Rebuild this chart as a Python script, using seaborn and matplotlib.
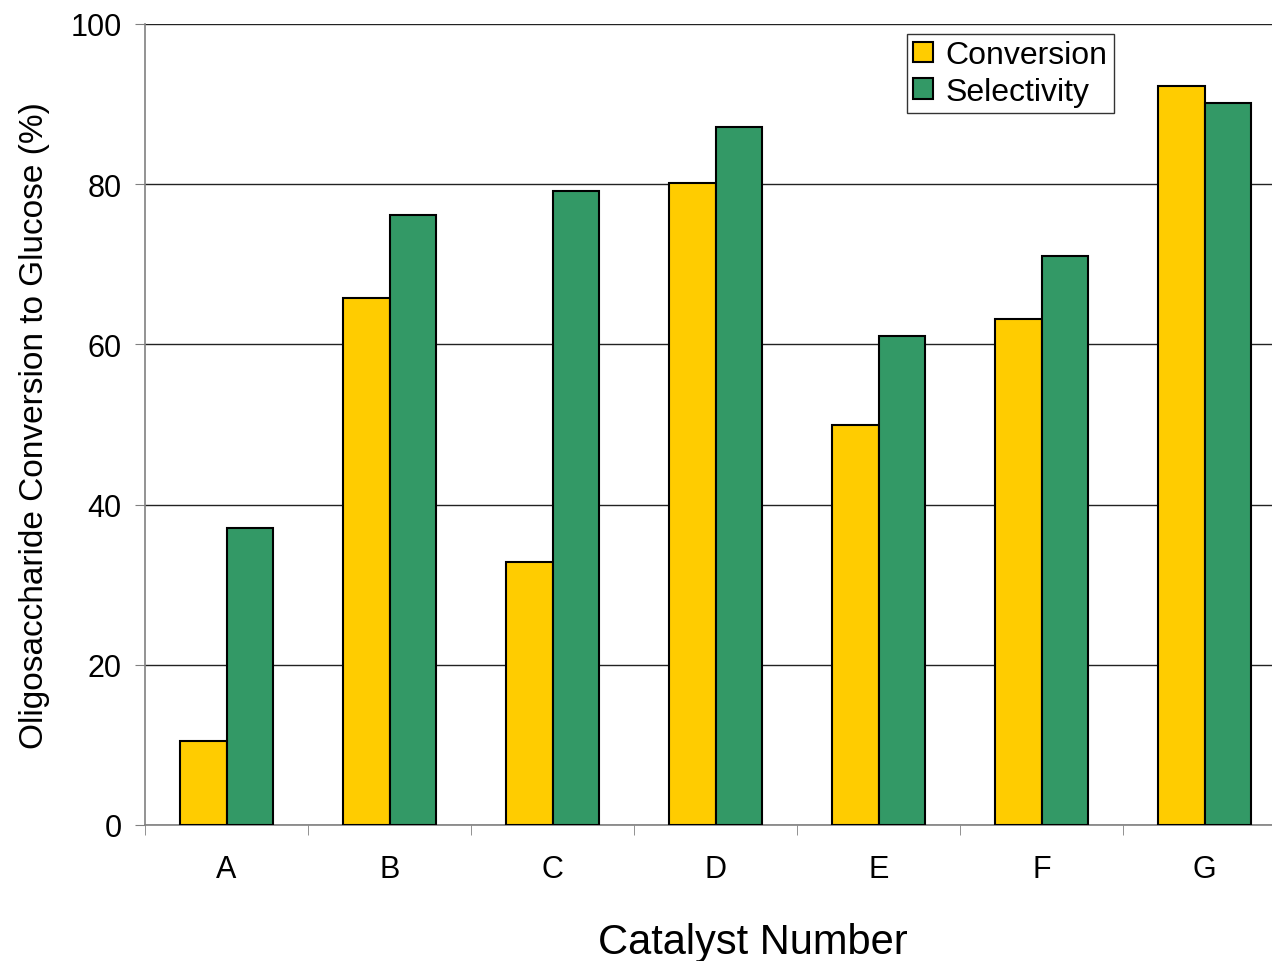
import pandas as pd
import seaborn as sns
import matplotlib.pyplot as plt

catalysts = ['A', 'B', 'C', 'D', 'E', 'F', 'G']
conversion = [10.5, 65.8, 32.8, 80.1, 49.9, 63.2, 92.3]
selectivity = [37.1, 76.2, 79.2, 87.1, 61.0, 71.0, 90.1]
series = ['Conversion', 'Selectivity']
colors = ['#FFCC00', '#339966']

df = pd.DataFrame({
    'Catalyst': catalysts * 2,
    'Value': conversion + selectivity,
    'Series': [series[0]] * len(catalysts) + [series[1]] * len(catalysts),
})

sns.set_style('white')
plt.rcParams['font.family'] = ['Liberation Sans', 'DejaVu Sans']
plt.rcParams['text.color'] = 'black'
plt.rcParams['axes.labelcolor'] = 'black'
plt.rcParams['xtick.color'] = 'black'
plt.rcParams['ytick.color'] = 'black'

fig = plt.figure(figsize=(12.72, 9.62), dpi=100)
ax = fig.add_axes([145 / 1272, 136 / 962, 1141 / 1272, 801 / 962])

sns.barplot(data=df, x='Catalyst', y='Value', hue='Series', palette=colors,
            width=0.57, gap=0, edgecolor='black', linewidth=1.5,
            saturation=1, ax=ax, zorder=3)

ax.set_xlim(-0.5, 6.5)
ax.set_ylim(0, 100)
ax.set_yticks([0, 20, 40, 60, 80, 100])
ax.yaxis.grid(True, color='#222222', linewidth=1, zorder=0)
ax.set_axisbelow(True)

for s in ['top', 'right']:
    ax.spines[s].set_visible(False)
for s in ['left', 'bottom']:
    ax.spines[s].set_color('#808080')
    ax.spines[s].set_linewidth(1.2)

ax.set_xticks([i - 0.5 for i in range(8)], minor=True)
ax.tick_params(axis='x', which='major', length=0, pad=21, labelsize=22)
ax.tick_params(axis='x', which='minor', length=7, direction='out', color='#808080', bottom=True)
ax.tick_params(axis='y', length=7, direction='out', color='#808080', left=True,
               labelcolor='black', pad=10, labelsize=22)

ax.set_xlabel('Catalyst Number', fontsize=30)
ax.set_ylabel('Oligosaccharide Conversion to Glucose (%)', fontsize=24)
ax.xaxis.set_label_coords(0.533, -0.121)
ax.yaxis.set_label_coords(-0.083, 0.5)

leg = ax.legend(loc='upper right', bbox_to_anchor=(0.849, 0.9875), borderaxespad=0,
                fontsize=23, frameon=True, fancybox=False, edgecolor='black',
                handlelength=0.6, handleheight=0.6, handletextpad=0.4,
                borderpad=0.2, labelspacing=0.2, title=None)
leg.get_frame().set_linewidth(1)
for h in leg.legend_handles:
    h.set_edgecolor('black')
    h.set_linewidth(1.5)

fig.savefig('out.png', dpi=100)
